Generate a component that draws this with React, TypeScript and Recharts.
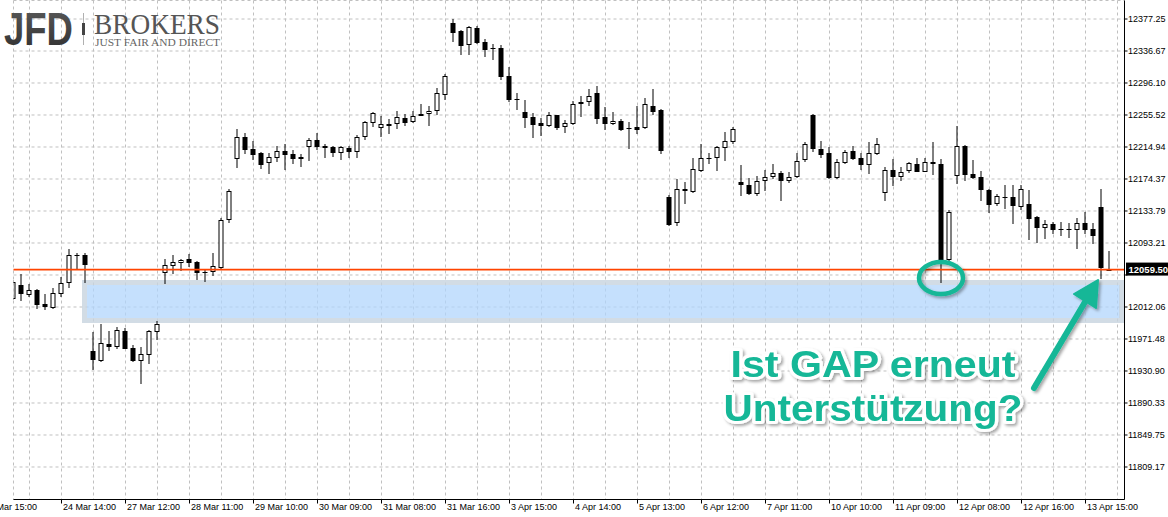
import React from 'react';
import {
  ComposedChart,
  Bar,
  XAxis,
  YAxis,
  CartesianGrid,
  ReferenceArea,
  ReferenceLine,
} from 'recharts';

// OHLC per bar (oldest -> newest)
const OPEN = [
  12023, 12040, 12029, 12034, 12016, 12012, 12030, 12044, 12078, 12078,
  11956, 11945, 11965, 11963, 11982, 11960, 11945, 11953, 11982, 12057,
  12065, 12069, 12073, 12069, 12057, 12058, 12063, 12124, 12201, 12228,
  12212, 12207, 12196, 12202, 12210, 12206, 12202, 12216, 12224, 12216,
  12215, 12209, 12214, 12210, 12229, 12247, 12240, 12243, 12245, 12252,
  12248, 12257, 12258, 12262, 12282, 12372, 12362, 12345, 12366, 12348,
  12340, 12340, 12305, 12276, 12259, 12253, 12245, 12243, 12255, 12241,
  12245, 12272, 12273, 12283, 12253, 12245, 12248, 12239, 12240, 12240,
  12267, 12262, 12151, 12120, 12162, 12159, 12186, 12201, 12202, 12215,
  12222, 12170, 12167, 12157, 12173, 12178, 12182, 12173, 12178, 12200,
  12255, 12212, 12207, 12177, 12196, 12210, 12201, 12193, 12207, 12158,
  12186, 12178, 12186, 12193, 12185, 12196, 12193, 12073, 12179, 12216,
  12181, 12177, 12160, 12144, 12151, 12151, 12140, 12143, 12126, 12113,
  12117, 12111, 12111, 12111, 12118, 12111, 12139, 12060,
];
const HIGH = [
  12046, 12054, 12041, 12035, 12029, 12036, 12050, 12086, 12080, 12081,
  11980, 11990, 11982, 11987, 11985, 11964, 11961, 11983, 11994, 12073,
  12078, 12073, 12079, 12070, 12060, 12081, 12125, 12162, 12238, 12233,
  12223, 12209, 12207, 12216, 12219, 12211, 12206, 12226, 12233, 12219,
  12216, 12216, 12216, 12230, 12248, 12259, 12254, 12250, 12261, 12257,
  12261, 12269, 12267, 12290, 12308, 12377, 12363, 12368, 12368, 12352,
  12346, 12344, 12316, 12283, 12275, 12258, 12252, 12259, 12256, 12249,
  12273, 12280, 12288, 12292, 12266, 12259, 12250, 12247, 12267, 12277,
  12288, 12263, 12154, 12174, 12170, 12201, 12219, 12207, 12216, 12234,
  12240, 12192, 12176, 12178, 12186, 12193, 12185, 12183, 12207, 12221,
  12257, 12223, 12215, 12200, 12211, 12216, 12207, 12221, 12226, 12190,
  12200, 12190, 12196, 12201, 12201, 12221, 12200, 12135, 12242, 12217,
  12198, 12185, 12162, 12155, 12167, 12167, 12167, 12160, 12127, 12122,
  12120, 12120, 12118, 12125, 12132, 12118, 12162, 12083,
];
const LOW = [
  12022, 12021, 12026, 12011, 12010, 12011, 12026, 12038, 12060, 12044,
  11933, 11943, 11957, 11960, 11960, 11943, 11916, 11941, 11971, 12043,
  12055, 12059, 12064, 12047, 12045, 12052, 12062, 12120, 12190, 12207,
  12200, 12188, 12182, 12197, 12187, 12195, 12191, 12198, 12212, 12202,
  12203, 12200, 12202, 12202, 12225, 12241, 12229, 12233, 12239, 12243,
  12247, 12255, 12243, 12257, 12276, 12349, 12333, 12333, 12347, 12330,
  12327, 12301, 12273, 12263, 12240, 12228, 12230, 12242, 12238, 12234,
  12244, 12254, 12268, 12245, 12238, 12244, 12237, 12214, 12233, 12239,
  12257, 12207, 12116, 12116, 12144, 12158, 12184, 12195, 12186, 12198,
  12220, 12154, 12155, 12154, 12160, 12176, 12148, 12170, 12177, 12197,
  12210, 12202, 12176, 12176, 12195, 12200, 12187, 12182, 12206, 12148,
  12167, 12173, 12183, 12184, 12184, 12181, 12044, 12071, 12169, 12173,
  12176, 12148, 12132, 12141, 12138, 12119, 12136, 12098, 12094, 12099,
  12106, 12103, 12101, 12087, 12106, 12093, 12049, 12059,
];
const CLOSE = [
  12044, 12030, 12034, 12016, 12013, 12030, 12043, 12078, 12078, 12067,
  11946, 11966, 11963, 11983, 11960, 11945, 11953, 11982, 11990, 12065,
  12069, 12072, 12069, 12057, 12057, 12064, 12122, 12159, 12228, 12212,
  12206, 12193, 12202, 12210, 12206, 12201, 12201, 12224, 12216, 12215,
  12209, 12215, 12210, 12228, 12247, 12258, 12244, 12244, 12253, 12247,
  12254, 12256, 12261, 12283, 12305, 12361, 12344, 12367, 12348, 12339,
  12340, 12305, 12276, 12276, 12253, 12244, 12243, 12255, 12240, 12245,
  12269, 12271, 12280, 12252, 12245, 12248, 12238, 12239, 12238, 12269,
  12261, 12211, 12117, 12162, 12160, 12187, 12201, 12201, 12215, 12222,
  12238, 12168, 12157, 12172, 12177, 12182, 12173, 12177, 12197, 12219,
  12214, 12206, 12177, 12196, 12209, 12201, 12193, 12207, 12219, 12186,
  12178, 12183, 12195, 12185, 12196, 12195, 12072, 12132, 12216, 12181,
  12177, 12162, 12143, 12153, 12151, 12141, 12162, 12125, 12113, 12117,
  12111, 12111, 12111, 12118, 12111, 12103, 12063, 12059.5,
];

const TIME_LABELS = [
  '24 Mar 14:00', '27 Mar 12:00', '28 Mar 11:00', '29 Mar 10:00', '30 Mar 09:00',
  '31 Mar 08:00', '31 Mar 16:00', '3 Apr 15:00', '4 Apr 14:00', '5 Apr 13:00',
  '6 Apr 12:00', '7 Apr 11:00', '10 Apr 10:00', '11 Apr 09:00', '12 Apr 08:00',
  '12 Apr 16:00', '13 Apr 15:00',
];
const PRICE_TICKS = [
  12377.25, 12336.67, 12296.1, 12255.52, 12214.94, 12174.37, 12133.79, 12093.21,
  12052.63, 12012.06, 11971.48, 11930.9, 11890.33, 11849.75, 11809.17,
];
const LAST_PRICE = 12059.5;
// gap zone: outer frame line and inner fill (price levels)
const GAP_FRAME = [11994.9, 12043.1];
const GAP_FILL = [11998.1, 12040.0];

const Y_DOMAIN = [11767.95, 12400.71];
const X_DOMAIN = [0, 138.875];

const AXIS_FONT = '"Liberation Sans", Arial, sans-serif';
const TEAL = '#14b797';

const rows = OPEN.map((o, i) => ({
  i,
  o,
  h: HIGH[i],
  l: LOW[i],
  c: CLOSE[i],
  range: [LOW[i], HIGH[i]],
}));

// grid every 4 bars, a time label every 8 bars
const gridTicks = Array.from({ length: 35 }, (_, j) => 2 + 4 * j);

function Candle(props: any) {
  const { x, y, width, height, payload } = props;
  if (x == null || !payload) return null;
  const cx = x + width / 2;
  const top = Math.min(y, y + height);
  const bot = Math.max(y, y + height);
  const span = payload.h - payload.l || 1;
  const toY = (v: number) => top + ((payload.h - v) / span) * (bot - top);
  const oY = toY(payload.o);
  const cY = toY(payload.c);
  const bTop = Math.round(Math.min(oY, cY));
  const bBot = Math.round(Math.max(oY, cY));
  const bull = payload.c > payload.o;
  const flat = bBot - bTop < 1;
  return (
    <g>
      <line x1={cx} x2={cx} y1={Math.round(top)} y2={Math.round(bot) + 1} stroke="#000" strokeWidth={1} />
      {flat ? (
        <line x1={cx - 2.5} x2={cx + 2.5} y1={bTop + 0.5} y2={bTop + 0.5} stroke="#000" strokeWidth={1} />
      ) : bull ? (
        <rect x={cx - 2} y={bTop + 0.5} width={4} height={bBot - bTop} fill="#fff" stroke="#000" strokeWidth={1} />
      ) : (
        <rect x={cx - 2.5} y={bTop} width={5} height={bBot - bTop + 1} fill="#000" />
      )}
    </g>
  );
}

function TimeTick(props: any) {
  const { x, y, payload } = props;
  const idx = (payload.value - 6) / 8;
  if (!Number.isInteger(idx) || !TIME_LABELS[idx]) return null;
  return (
    <g>
      <line x1={x} x2={x} y1={y} y2={y + 4} stroke="#000" />
      <text x={x + 1.5} y={y + 10.5} fontSize={9} fontFamily={AXIS_FONT} fill="#000">
        {TIME_LABELS[idx]}
      </text>
    </g>
  );
}

function PriceTick(props: any) {
  const { x, y, payload } = props;
  const hidden = Math.abs(payload.value - LAST_PRICE) < 10;
  return (
    <g>
      <line x1={x} x2={x + 3} y1={y} y2={y} stroke="#000" />
      {!hidden && (
        <text x={x + 3.5} y={y + 3.2} fontSize={9} fontFamily={AXIS_FONT} fill="#000">
          {payload.value.toFixed(2)}
        </text>
      )}
    </g>
  );
}

function PriceTag(props: any) {
  const vb = props.viewBox;
  if (!vb) return null;
  const x = vb.x + vb.width + 1.5;
  const y = vb.y;
  return (
    <g>
      <rect x={x} y={y - 7} width={44} height={13} fill="#000" />
      <text x={x + 2.5} y={y + 3} fontSize={9.5} fontWeight="bold" fontFamily={AXIS_FONT} fill="#fff">
        {LAST_PRICE.toFixed(2)}
      </text>
    </g>
  );
}

function Overlay() {
  return (
    <svg
      width={1168}
      height={517}
      style={{ position: 'absolute', left: 0, top: 0, pointerEvents: 'none' }}
    >
      <defs>
        <linearGradient id="jfd" x1="0" y1="0" x2="0" y2="1">
          <stop offset="0" stopColor="#5c5c5c" />
          <stop offset="1" stopColor="#2e2e2e" />
        </linearGradient>
        <filter id="shadow" x="-10%" y="-20%" width="120%" height="140%">
          <feDropShadow dx="2" dy="2" stdDeviation="1.5" floodColor="#000" floodOpacity="0.35" />
        </filter>
      </defs>

      {/* logo */}
      <text x={4} y={45} fontSize={46} fontWeight={900} fontFamily={AXIS_FONT} fill="url(#jfd)"
        textLength={69} lengthAdjust="spacingAndGlyphs">JFD</text>
      <line x1={83.5} x2={83.5} y1={13} y2={45} stroke="#b0b0b0" strokeWidth={1} />
      <rect x={82} y={23} width={3} height={12} fill="#444" />
      <text x={94} y={34} fontSize={30} fontFamily='"Liberation Serif", serif' fill="#555"
        textLength={126} lengthAdjust="spacingAndGlyphs">BROKERS</text>
      <text x={95} y={45.5} fontSize={9.5} fontFamily='"Liberation Serif", serif' fill="#666"
        textLength={125} lengthAdjust="spacingAndGlyphs">JUST FAIR AND DIRECT</text>

      {/* left edge time label, cut off as in the source */}
      <text x={-16} y={510} fontSize={9} fontFamily={AXIS_FONT} fill="#000">23 Mar 15:00</text>

      {/* annotation */}
      <g filter="url(#shadow)">
        <ellipse cx={941} cy={278} rx={22} ry={16} fill="none" stroke={TEAL} strokeWidth={4.5} />
        <line x1={1034} y1={388} x2={1085} y2={302} stroke={TEAL} strokeWidth={6} strokeLinecap="round" />
        <polygon points="1098,280 1074,294 1096,308" fill={TEAL} stroke={TEAL} strokeWidth={2} strokeLinejoin="round" />
        <text x={873} y={377} textAnchor="middle" fontSize={37} fontWeight="bold" fontFamily={AXIS_FONT}
          fill={TEAL} stroke="#fff" strokeWidth={6} strokeLinejoin="round" paintOrder="stroke"
          textLength={285} lengthAdjust="spacingAndGlyphs">Ist GAP erneut</text>
        <text x={873} y={421} textAnchor="middle" fontSize={37} fontWeight="bold" fontFamily={AXIS_FONT}
          fill={TEAL} stroke="#fff" strokeWidth={6} strokeLinejoin="round" paintOrder="stroke"
          textLength={299} lengthAdjust="spacingAndGlyphs">Unterstützung?</text>
      </g>
    </svg>
  );
}

export default function App() {
  return (
    <div style={{ position: 'fixed', left: 0, top: 0, width: 1168, height: 517, background: '#fff', overflow: 'hidden' }}>
      <ComposedChart
        width={1168}
        height={517}
        data={rows}
        margin={{ top: 0.5, right: 0, bottom: 0, left: 13.5 }}
      >
        <CartesianGrid stroke="#c0c0c0" strokeDasharray="3 3" />
        <XAxis
          dataKey="i"
          type="number"
          domain={X_DOMAIN}
          ticks={gridTicks}
          interval={0}
          allowDataOverflow
          height={17.5}
          tickSize={0}
          tickMargin={0}
          tickLine={false}
          axisLine={{ stroke: '#000' }}
          tick={<TimeTick />}
        />
        <YAxis
          orientation="right"
          type="number"
          domain={Y_DOMAIN}
          ticks={PRICE_TICKS}
          interval={0}
          allowDataOverflow
          width={43.5}
          tickSize={0}
          tickMargin={0}
          tickLine={false}
          axisLine={{ stroke: '#000' }}
          tick={<PriceTick />}
        />
        {/* semi-transparent so the dashed grid stays visible through the zone */}
        <ReferenceArea x1={9.19} x2={138.3} y1={GAP_FILL[0]} y2={GAP_FILL[1]}
          fill="#b2d6fc" fillOpacity={0.75} stroke="none" />
        <ReferenceArea x1={8.875} x2={138.5} y1={GAP_FRAME[0]} y2={GAP_FRAME[1]}
          fill="none" stroke="#c7d3de" strokeOpacity={0.8} strokeWidth={5} />
        <ReferenceLine y={LAST_PRICE} stroke="#ff4400" strokeWidth={1.6} label={<PriceTag />} />
        <Bar dataKey="range" barSize={5} isAnimationActive={false} shape={(p: any) => <Candle {...p} />} />
      </ComposedChart>
      <Overlay />
    </div>
  );
}
